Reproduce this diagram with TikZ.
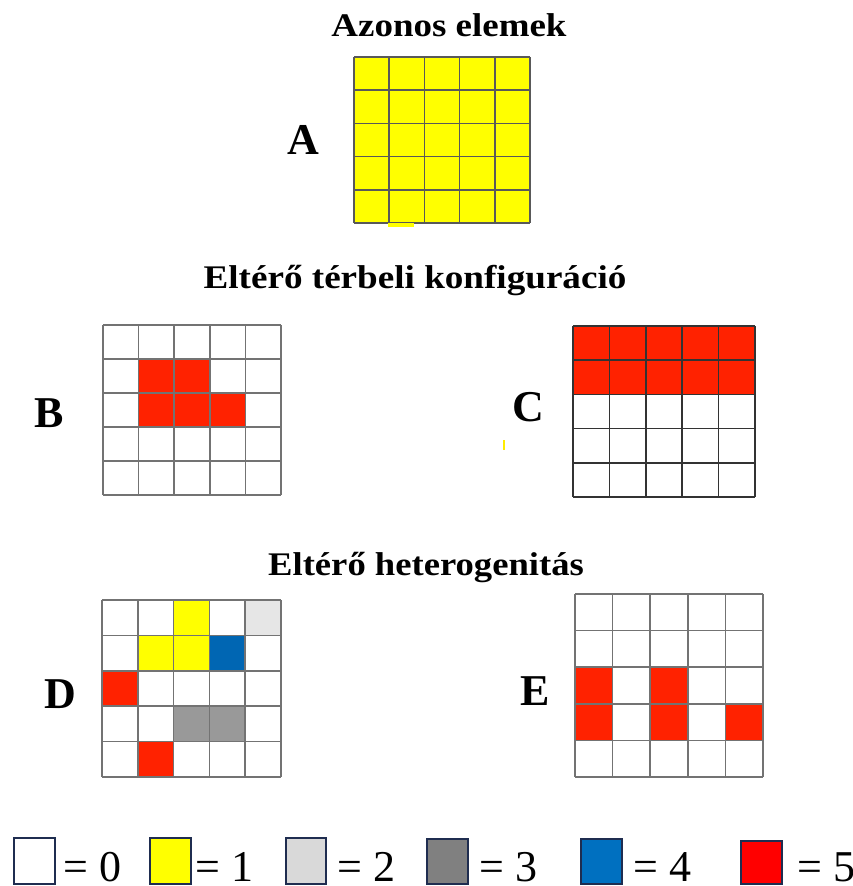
\documentclass[tikz,border=0pt]{standalone}
\usepackage{fontspec}
\setmainfont{Liberation Serif}
\definecolor{yel}{HTML}{FFFF00}
\definecolor{redg}{HTML}{FF2200}
\definecolor{redl}{HTML}{FF0000}
\definecolor{blueg}{HTML}{0066B3}
\definecolor{bluel}{HTML}{0070C0}
\definecolor{lgray}{HTML}{E6E6E6}
\definecolor{lgrayl}{HTML}{D9D9D9}
\definecolor{mgray}{HTML}{999999}
\definecolor{mgrayl}{HTML}{808080}
\definecolor{navy}{HTML}{1F2D50}
\newcommand\gridlines[1]{\foreach \i in {0,...,5}{\draw[#1] (\i,0) -- (\i,5); \draw[#1] (0,\i) -- (5,\i);}}
\tikzset{
  title/.style={font=\fontsize{33}{36}\selectfont\bfseries, anchor=base, inner sep=0pt},
  letter/.style={font=\fontsize{44}{48}\selectfont\bfseries, inner sep=0pt},
  gl/.style={line width=1.6pt, draw=black!55},
  glc/.style={line width=1.6pt, draw=black!80},
  gla/.style={line width=1.6pt, draw=black!65},
  legbox/.style={draw=navy, line width=2.4pt},
  legtext/.style={font=\fontsize{44}{48}\selectfont, anchor=base west, inner sep=0pt, text depth=0pt, text height=31pt}
}
\begin{document}
\begin{tikzpicture}[x=1pt,y=-1pt]
\useasboundingbox[fill=white] (0,0) rectangle (852,886);
% titles
\node[title, xscale=1.12, transform shape] (t1) at (449,36) {Azonos elemek};
\node[title, xscale=1.125, transform shape] (t2) at (415,288) {Eltérő térbeli konfiguráció};
\node[title, xscale=1.11, transform shape] (t3) at (426,575) {Eltérő heterogenitás};
% letters
\node[letter] (la) at (303,140) {A};
\node[letter] (lb) at (49,413) {B};
\node[letter] (lc) at (528,407) {C};
\node[letter] (ld) at (60,694) {D};
\node[letter] (le) at (535,691) {E};
% grid A
\begin{scope}[shift={(354,57)}, x=35.2pt, y=-33.2pt]
  \fill[yel] (0,0) rectangle (5,5);
  \gridlines{gla}
\end{scope}
\fill[yel] (388,223) rectangle (414,227);
% grid B
\begin{scope}[shift={(103,325)}, x=35.6pt, y=-34pt]
  \fill[redg] (1,1) rectangle (3,2);
  \fill[redg] (1,2) rectangle (4,3);
  \gridlines{gl}
\end{scope}
% grid C
\begin{scope}[shift={(573,326)}, x=36.4pt, y=-34.2pt]
  \fill[redg] (0,0) rectangle (5,2);
  \gridlines{glc}
\end{scope}
\draw[yel!85!orange, line width=1.5pt] (504,440) -- (504,450);
% grid D
\begin{scope}[shift={(102,600)}, x=35.8pt, y=-35.4pt]
  \fill[yel] (2,0) rectangle (3,1);
  \fill[lgray] (4,0) rectangle (5,1);
  \fill[yel] (1,1) rectangle (3,2);
  \fill[blueg] (3,1) rectangle (4,2);
  \fill[redg] (0,2) rectangle (1,3);
  \fill[mgray] (2,3) rectangle (4,4);
  \fill[redg] (1,4) rectangle (2,5);
  \gridlines{gl}
\end{scope}
% grid E
\begin{scope}[shift={(575,594)}, x=37.6pt, y=-36.6pt]
  \fill[redg] (0,2) rectangle (1,4);
  \fill[redg] (2,2) rectangle (3,4);
  \fill[redg] (4,3) rectangle (5,4);
  \gridlines{gl}
\end{scope}
% legend
\draw[legbox, fill=white] (14,838) rectangle (55,884);
\draw[legbox, fill=yel] (150,838) rectangle (191,884);
\draw[legbox, fill=lgrayl] (286,838) rectangle (326,884);
\draw[legbox, fill=mgrayl] (427,839) rectangle (468,884);
\draw[legbox, fill=bluel] (581,839) rectangle (622,884);
\draw[legbox, fill=redl] (741,841) rectangle (782,884);
\node[legtext] (v0) at (63,881) {= 0};
\node[legtext] (v1) at (195,881) {= 1};
\node[legtext] (v2) at (337,881) {= 2};
\node[legtext] (v3) at (479,881) {= 3};
\node[legtext] (v4) at (633,881) {= 4};
\node[legtext] (v5) at (797,881) {= 5};
\end{tikzpicture}
\end{document}
